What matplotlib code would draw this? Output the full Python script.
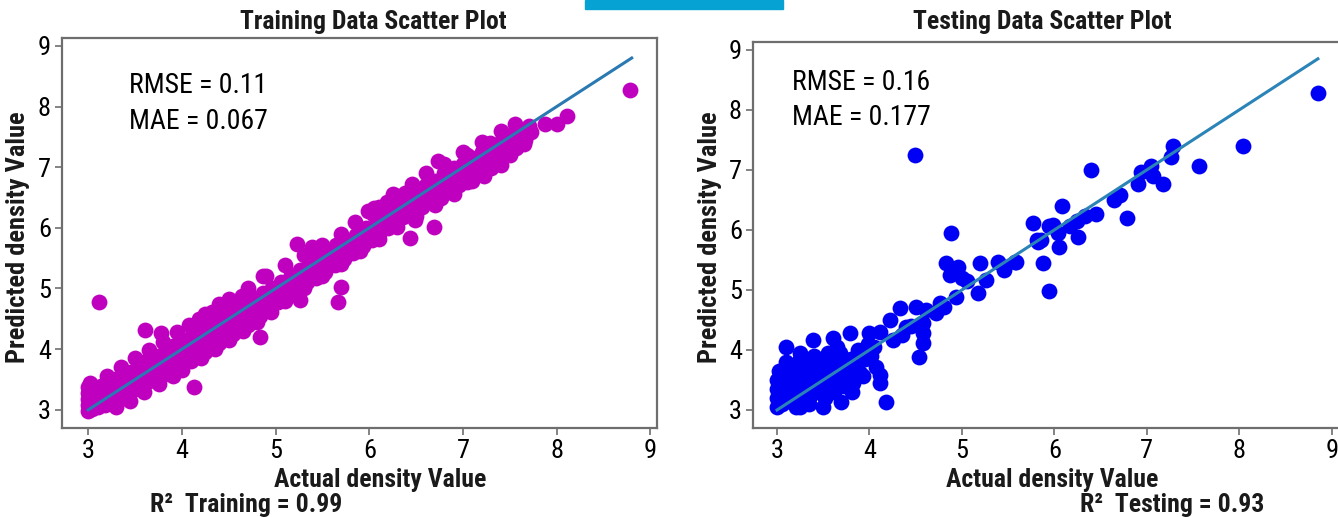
import matplotlib
matplotlib.use('Agg')
import matplotlib.pyplot as plt
from matplotlib.patches import Rectangle

# --- data ---
train_actual = [
    3.00, 3.00, 3.00, 3.00, 3.00, 3.02, 3.04, 3.06, 3.08, 3.10, 3.12, 3.14, 3.16, 3.18, 3.20, 3.22,
    3.25, 3.28, 3.30, 3.33, 3.36, 3.38, 3.40, 3.43, 3.46, 3.48, 3.50, 3.53, 3.55, 3.58, 3.60, 3.62,
    3.65, 3.68, 3.70, 3.72, 3.75, 3.78, 3.80, 3.83, 3.85, 3.88, 3.90, 3.93, 3.96, 3.98, 4.00, 4.03,
    4.05, 4.08, 4.10, 4.12, 4.15, 4.18, 4.20, 4.22, 4.25, 4.28, 4.30, 4.32, 4.35, 4.38, 4.40, 4.42,
    4.45, 4.48, 4.50, 4.52, 4.55, 4.58, 4.60, 4.63, 4.66, 4.70, 4.73, 4.76, 4.80, 4.83, 4.86, 4.90,
    4.93, 4.96, 5.00, 5.03, 5.06, 5.10, 5.13, 5.16, 5.20, 5.23, 5.26, 5.30, 5.33, 5.36, 5.40, 5.43,
    5.46, 5.50, 5.53, 5.56, 5.60, 5.63, 5.66, 5.70, 5.73, 5.76, 5.80, 5.83, 5.86, 5.90, 5.93, 5.96,
    6.00, 6.03, 6.05, 6.08, 6.10, 6.13, 6.16, 6.20, 6.22, 6.25, 6.28, 6.30, 6.33, 6.36, 6.40, 6.43,
    6.46, 6.50, 6.53, 6.56, 6.60, 6.63, 6.66, 6.70, 6.73, 6.76, 6.80, 6.83, 6.86, 6.90, 6.93, 6.96,
    7.00, 7.03, 7.06, 7.10, 7.13, 7.16, 7.20, 7.23, 7.26, 7.30, 7.33, 7.36, 7.40, 7.43, 7.46, 7.50,
    7.53, 7.56, 7.60, 7.63, 7.66, 7.70, 7.72,
    4.18, 4.25, 4.32, 4.10, 4.25, 4.40, 4.55, 4.70, 4.64, 4.86, 5.42, 5.64, 5.79,
    5.99, 6.19, 6.38, 6.54, 6.30, 6.10, 7.04, 7.22, 6.90, 7.04, 7.29, 7.54, 7.68,
    3.20, 3.35, 3.50, 3.65, 3.80, 3.95, 4.08, 4.40, 4.50, 4.70, 4.90, 5.10, 5.30, 5.50, 5.70, 5.85,
    6.05, 6.25, 6.45, 6.60, 6.80, 7.00, 7.20, 7.40, 7.55,
    3.30, 3.45, 3.60, 3.75, 3.90, 4.00, 4.20, 4.35, 4.50, 4.65, 4.80, 4.95, 5.10, 5.30, 5.50, 5.70,
    5.90, 6.10, 6.30, 6.50, 6.70, 6.90, 7.10, 7.30, 7.50, 7.65,
    3.12, 4.13, 3.61, 3.78, 4.83, 5.23, 5.26, 5.67, 5.70, 5.39, 6.43, 6.69, 6.49,
    7.40, 6.73, 7.88, 8.00, 8.11, 8.78,
]
train_pred = [
    2.98, 3.08, 3.18, 3.28, 3.38, 3.45, 3.02, 3.22, 3.32, 3.05, 3.15, 3.40, 3.26, 3.08, 3.45, 3.18,
    3.33, 3.12, 3.50, 3.25, 3.20, 3.55, 3.40, 3.28, 3.62, 3.46, 3.35, 3.70, 3.52, 3.38, 3.78, 3.60,
    3.48, 3.85, 3.62, 3.50, 3.88, 3.72, 3.58, 3.95, 3.80, 3.65, 4.05, 3.85, 3.72, 4.10, 3.92, 3.80,
    4.15, 4.00, 3.85, 4.28, 4.10, 3.95, 4.42, 4.20, 4.05, 4.48, 4.30, 4.12, 4.55, 4.38, 4.20, 4.60,
    4.45, 4.25, 4.62, 4.50, 4.35, 4.68, 4.55, 4.42, 4.75, 4.60, 4.48, 4.85, 4.68, 4.55, 4.92, 4.80,
    4.65, 5.00, 4.88, 4.78, 5.10, 5.00, 4.90, 5.22, 5.12, 5.00, 5.30, 5.20, 5.10, 5.40, 5.30, 5.18,
    5.48, 5.40, 5.28, 5.55, 5.50, 5.38, 5.62, 5.60, 5.48, 5.75, 5.70, 5.58, 5.88, 5.82, 5.70, 6.00,
    5.92, 5.80, 6.22, 6.05, 5.90, 6.30, 6.15, 6.00, 6.38, 6.25, 6.10, 6.48, 6.32, 6.18, 6.55, 6.40,
    6.28, 6.62, 6.48, 6.35, 6.70, 6.55, 6.42, 6.78, 6.62, 6.50, 6.90, 6.72, 6.60, 6.98, 6.82, 6.70,
    7.05, 6.90, 6.80, 7.15, 7.00, 6.90, 7.25, 7.10, 7.00, 7.32, 7.20, 7.12, 7.42, 7.30, 7.22, 7.50,
    7.40, 7.32, 7.58, 7.50, 7.45, 7.68, 7.58,
    4.50, 4.58, 4.62, 3.80, 3.95, 4.10, 4.25, 4.40, 4.88, 5.20, 5.60, 5.72, 5.78,
    6.28, 6.42, 6.58, 6.64, 6.52, 6.35, 6.75, 6.85, 6.62, 7.20, 7.40, 7.56, 7.62,
    3.55, 3.70, 3.85, 3.98, 4.12, 4.28, 4.40, 4.75, 4.82, 5.00, 5.20, 5.38, 5.55, 5.72, 5.90, 6.10,
    6.32, 6.55, 6.72, 6.90, 7.05, 7.25, 7.42, 7.60, 7.72,
    3.05, 3.15, 3.30, 3.42, 3.55, 3.65, 3.85, 4.00, 4.15, 4.30, 4.45, 4.62, 4.80, 5.00, 5.20, 5.40,
    5.62, 5.82, 6.02, 6.20, 6.38, 6.55, 6.78, 6.98, 7.20, 7.38,
    4.78, 3.38, 4.32, 4.27, 4.20, 5.73, 4.81, 4.78, 5.03, 5.69, 5.83, 6.01, 6.13,
    7.04, 7.10, 7.72, 7.72, 7.84, 8.27,
]

test_actual = [
    3.00, 3.00, 3.00, 3.00, 3.02, 3.05, 3.05, 3.08, 3.10, 3.10, 3.12, 3.15, 3.15, 3.18, 3.20, 3.20,
    3.22, 3.25, 3.25, 3.28, 3.30, 3.30, 3.33, 3.35, 3.38, 3.40, 3.40, 3.42, 3.45, 3.48, 3.50, 3.52,
    3.55, 3.58, 3.60, 3.62, 3.65, 3.68, 3.70, 3.72, 3.75, 3.78, 3.80, 3.82, 3.85, 3.88, 3.90, 3.95,
    3.98, 4.02, 4.05,
    3.10, 3.25, 3.39, 3.60, 3.79, 4.00, 4.11, 4.07, 4.11, 4.11, 4.18, 3.69, 3.81, 3.93, 3.25,
    3.55, 3.65, 3.72, 3.90, 3.50, 3.35,
    4.22, 4.39, 4.33, 4.50, 4.61, 4.58, 4.58, 4.58, 4.54, 4.72, 4.81, 4.76, 4.94, 4.87, 4.83, 4.96,
    5.00, 5.05, 5.19, 5.17, 5.26, 5.39, 5.46, 5.58, 4.88, 5.45, 5.57, 4.25, 4.35, 4.45,
    5.77, 5.94, 5.82, 5.88, 5.94, 5.81, 5.86, 6.05, 5.99, 6.04, 6.17, 6.08, 6.24, 6.33, 6.26, 6.45,
    6.71, 6.65, 6.79, 6.40, 6.90, 6.94, 7.05, 7.07, 7.17, 7.26, 7.28, 7.56, 8.04, 8.85, 4.49,
]
test_pred = [
    3.05, 3.20, 3.35, 3.50, 3.65, 3.10, 3.28, 3.45, 3.60, 3.80, 3.15, 3.35, 3.50, 3.70, 3.05, 3.25,
    3.45, 3.60, 3.85, 3.12, 3.35, 3.55, 3.75, 3.20, 3.45, 3.65, 3.90, 3.30, 3.55, 3.75, 3.40, 3.20,
    3.60, 3.85, 3.45, 3.30, 3.70, 3.95, 3.55, 3.40, 3.75, 3.60, 3.85, 3.45, 3.70, 4.00, 3.62, 3.85,
    4.10, 3.90, 4.05,
    4.05, 3.95, 4.17, 4.20, 4.28, 4.28, 4.30, 3.72, 3.58, 3.45, 3.14, 3.14, 3.30, 3.56, 3.05,
    3.95, 4.05, 3.85, 3.95, 3.05, 3.10,
    4.50, 4.39, 4.70, 4.72, 4.67, 4.45, 4.28, 4.12, 3.89, 4.62, 4.72, 4.78, 4.89, 5.25, 5.45, 5.39,
    5.20, 5.15, 5.45, 4.95, 5.17, 5.47, 5.39, 5.47, 5.94, 5.33, 5.47, 4.17, 4.25, 4.40,
    6.12, 6.07, 5.80, 5.45, 4.99, 5.83, 5.83, 5.72, 6.08, 5.94, 6.06, 6.39, 6.14, 6.23, 5.89, 6.27,
    6.58, 6.49, 6.19, 7.00, 6.77, 6.97, 7.07, 6.89, 6.77, 7.22, 7.40, 7.06, 7.39, 8.28, 7.25,
]

fit_line = [3.0, 8.8]
fit_line_test = [3.0, 8.85]
ticks = [3, 4, 5, 6, 7, 8, 9]

plt.rcParams['font.family'] = ['Roboto Condensed', 'Liberation Sans Narrow', 'DejaVu Sans']

fig = plt.figure(figsize=(13.38, 5.17), dpi=100)
fig.patches.append(Rectangle((585 / 1338, 1 - 9 / 517), 198 / 1338, 9 / 517,
                             transform=fig.transFigure, color='#05a2d3', zorder=5))

ax1 = fig.add_axes([62 / 1338, 1 - 428 / 517, 595 / 1338, 390 / 517])
ax2 = fig.add_axes([753 / 1338, 1 - 428 / 517, 588 / 1338, 386 / 517])

for ax in (ax1, ax2):
    for sp in ax.spines.values():
        sp.set_color('#6e6e6e')
        sp.set_linewidth(1.6)
    ax.set_xticks(ticks)
    ax.set_yticks(ticks)
    ax.tick_params(labelsize=19, length=5, width=1.2, color='#6e6e6e', pad=3)

ax1.scatter(train_actual, train_pred, s=130, color='#bf00bf', linewidths=0, zorder=2)
ax1.plot(fit_line, fit_line, color='#2b79b2', lw=2.2, zorder=3)
ax1.set_xlim(2.72, 9.07)
ax1.set_ylim(2.70, 9.13)
ax1.text(3.43, 8.35, 'RMSE = 0.11', fontsize=20, va='center')
ax1.text(3.43, 7.76, 'MAE = 0.067', fontsize=20, va='center')

ax2.scatter(test_actual, test_pred, s=130, color='#0000f5', linewidths=0, zorder=2)
ax2.plot(fit_line_test, fit_line_test, color='#2b84b8', lw=2.2, zorder=3)
ax2.set_xlim(2.74, 9.10)
ax2.set_ylim(2.70, 9.13)
ax2.text(3.16, 8.45, 'RMSE = 0.16', fontsize=20, va='center')
ax2.text(3.16, 7.87, 'MAE = 0.177', fontsize=20, va='center')

bold = dict(fontweight='bold', color='#1a1a1a')
fig.text(373 / 1338, 1 - 22 / 517, 'Training Data Scatter Plot', ha='center', va='center', fontsize=18.5, **bold)
fig.text(1042 / 1338, 1 - 22 / 517, 'Testing Data Scatter Plot', ha='center', va='center', fontsize=18.5, **bold)
fig.text(380 / 1338, 1 - 480 / 517, 'Actual density Value', ha='center', va='center', fontsize=18.5, **bold)
fig.text(1052 / 1338, 1 - 480 / 517, 'Actual density Value', ha='center', va='center', fontsize=18.5, **bold)
fig.text(246 / 1338, 1 - 505 / 517, 'R²  Training = 0.99', ha='center', va='center', fontsize=18.5, **bold)
fig.text(1172 / 1338, 1 - 505 / 517, 'R²  Testing = 0.93', ha='center', va='center', fontsize=18.5, **bold)
fig.text(18 / 1338, 1 - 237 / 517, 'Predicted density Value', rotation=90, ha='center', va='center',
         fontsize=19, **bold)
fig.text(710 / 1338, 1 - 237 / 517, 'Predicted density Value', rotation=90, ha='center', va='center',
         fontsize=19, **bold)

fig.savefig('out.png', dpi=100)
